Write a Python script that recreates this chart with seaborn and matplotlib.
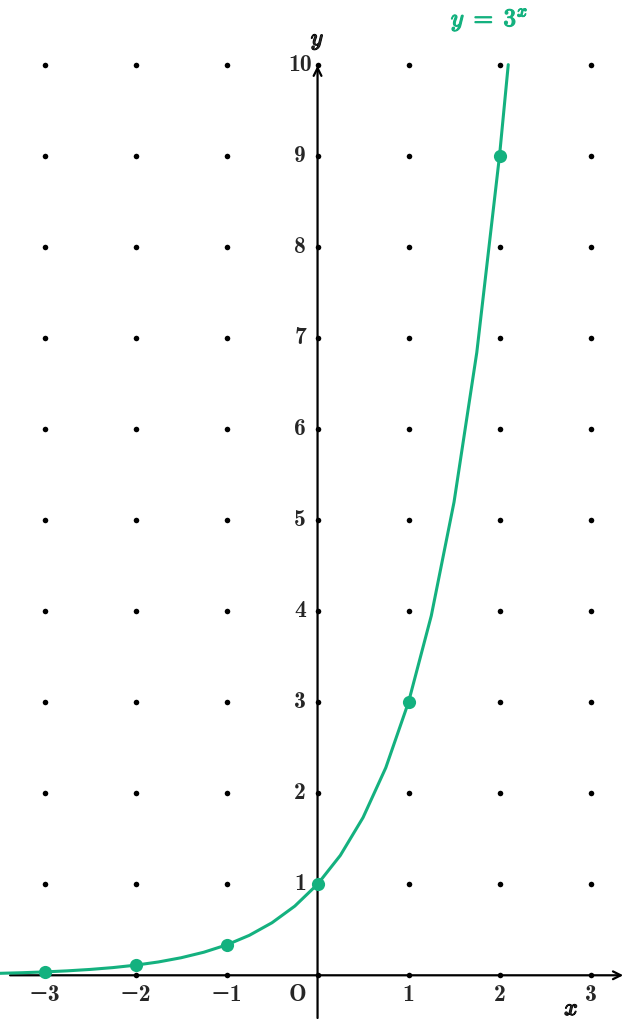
import numpy as np
import pandas as pd
import matplotlib
matplotlib.use("Agg")
import matplotlib.pyplot as plt
import matplotlib.patheffects as pe
import seaborn as sns

# curve samples of y = 3^x
curve_x = [-3.5, -3.25, -3.0, -2.75, -2.5, -2.25, -2.0, -1.75, -1.5, -1.25, -1.0,
           -0.75, -0.5, -0.25, 0.0, 0.25, 0.5, 0.75, 1.0, 1.25, 1.5, 1.75, 2.0, 2.096]
curve_y = [0.0214, 0.0281, 0.0370, 0.0488, 0.0642, 0.0844, 0.1111, 0.1462, 0.1925,
           0.2533, 0.3333, 0.4387, 0.5774, 0.7598, 1.0, 1.3161, 1.7321, 2.2795, 3.0,
           3.9482, 5.1962, 6.8385, 9.0, 10.0]

# highlighted points
point_x = [-3, -2, -1, 0, 1, 2]
point_y = [0.0370, 0.1111, 0.3333, 1.0, 3.0, 9.0]

# tick labels
x_ticks = [-3, -2, -1, 1, 2, 3]
y_ticks = [1, 2, 3, 4, 5, 6, 7, 8, 9, 10]

green = "#14b17f"

sns.set_style("white")
plt.rcParams["mathtext.fontset"] = "cm"

fig = plt.figure(figsize=(6.26, 10.19), dpi=100)
ax = fig.add_axes([0, 0, 1, 1])
ax.set_xlim(-3.49, 3.39)
ax.set_ylim(-0.48, 10.71)
ax.axis("off")

# dot grid
gx, gy = np.meshgrid(np.arange(-3, 4), np.arange(0, 11))
grid = pd.DataFrame({"x": gx.ravel(), "y": gy.ravel()})
sns.scatterplot(data=grid, x="x", y="y", color="black", s=16, linewidth=0, ax=ax, zorder=3)

# axes with arrows
ax.annotate("", xy=(3.39, 0), xytext=(-3.41, 0),
            arrowprops=dict(arrowstyle="->", color="black", lw=1.6, mutation_scale=14), zorder=2)
ax.annotate("", xy=(0, 10.02), xytext=(0, -0.5),
            arrowprops=dict(arrowstyle="->", color="black", lw=1.6, mutation_scale=14), zorder=2)

# curve and points
df = pd.DataFrame({"x": curve_x, "y": curve_y})
sns.lineplot(data=df, x="x", y="y", color=green, lw=2.2, sort=False, ax=ax, zorder=4)
pts = pd.DataFrame({"x": point_x, "y": point_y})
sns.scatterplot(data=pts, x="x", y="y", color=green, s=90, linewidth=0, ax=ax, zorder=5)

fs = 17
bold = dict(fontsize=fs, family=["cmb10", "DejaVu Serif"])
for v in x_ticks:
    lab = str(v) if v > 0 else "\u2212" + str(-v)
    ax.text(v, -0.22, lab, ha="center", va="center", **bold)
for v in y_ticks:
    ax.text(-0.19, v, str(v), ha="center", va="center", **bold)
ax.text(-0.22, -0.22, "O", ha="center", va="center", **bold)

stroke = [pe.withStroke(linewidth=0.9, foreground="black")]
ax.text(2.79, -0.36, r"$x$", ha="center", va="center", fontsize=fs,
        path_effects=stroke)
ax.text(0.0, 10.27, r"$y$", ha="center", va="center", fontsize=fs,
        path_effects=stroke)
ax.text(1.89, 10.49, r"$y\;=\;3^x$", ha="center", va="center", fontsize=18,
        color=green, path_effects=[pe.withStroke(linewidth=0.9, foreground=green)])

ax.set_xlabel("")
ax.set_ylabel("")
fig.savefig("out.png", dpi=100)
